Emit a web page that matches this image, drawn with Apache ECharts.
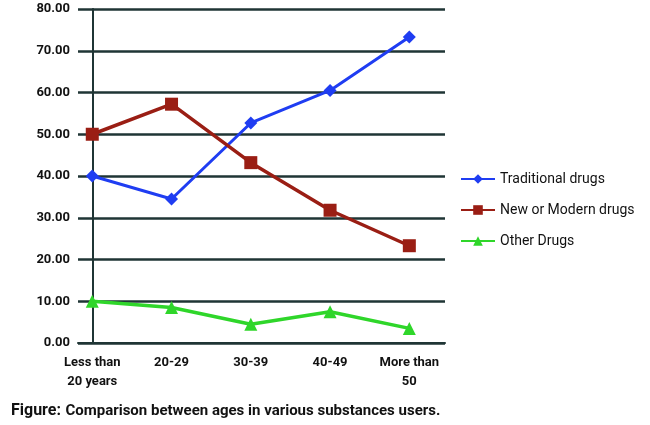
<!DOCTYPE html>
<html><head><meta charset="utf-8">
<script src="https://cdn.jsdelivr.net/npm/echarts@6/dist/echarts.min.js"></script>
<style>html,body{margin:0;background:#fff}#c{width:650px;height:425px}</style>
</head><body><div id="c"></div>
<script>
var categories = ['Less than\n20 years', '20-29', '30-39', '40-49', 'More than\n50'];
var traditional = [40.0, 34.5, 52.7, 60.5, 73.3];
var modern = [50.0, 57.2, 43.2, 31.8, 23.3];
var other = [10.0, 8.5, 4.5, 7.5, 3.5];
var yTicks = [0, 10, 20, 30, 40, 50, 60, 70, 80];

var font = '"Liberation Sans Narrow", "Roboto", sans-serif';
function pts(arr) { return arr.map(function (v, i) { return [i, v]; }); }

var chart = echarts.init(document.getElementById('c'));
chart.setOption({
    animation: false,
    textStyle: { fontFamily: font },
    title: {
        left: 6, top: 397,
        text: '{b|Figure:} {n|Comparison between ages in various substances users.}',
        textStyle: { rich: {
            b: { fontFamily: font, fontWeight: 'bold', fontSize: 16, color: '#111' },
            n: { fontFamily: font, fontSize: 15, color: '#111' }
        } }
    },
    legend: {
        orient: 'vertical', left: 455, top: 167, itemGap: 17,
        itemWidth: 34, itemHeight: 12,
        textStyle: { fontFamily: font, fontSize: 14, color: '#111' },
        data: ['Traditional drugs', 'New or Modern drugs', 'Other Drugs']
    },
    grid: { left: 78, right: 205, top: 9, bottom: 82, outerBoundsMode: 'none' },
    xAxis: {
        type: 'value', min: -0.18, max: 4.45,
        axisLine: { onZero: false, lineStyle: { color: '#1f3535', width: 2 } },
        axisTick: { show: false },
        splitLine: { show: false },
        axisLabel: {
            customValues: [0, 1, 2, 3, 4],
            formatter: function (v) { return categories[Math.round(v)]; },
            fontFamily: font, fontWeight: 'bold', fontSize: 13, color: '#111', lineHeight: 19, margin: 10
        }
    },
    yAxis: {
        type: 'value', min: 0, max: 80, interval: 10,
        axisLine: { show: true, lineStyle: { color: '#1f3535', width: 2 } },
        axisTick: { show: false },
        splitLine: { lineStyle: { color: '#1f3535', width: 2.5 } },
        axisLabel: {
            formatter: function (v) { return yTicks.indexOf(v) >= 0 ? v.toFixed(2) : ''; },
            fontFamily: font, fontWeight: 'bold', fontSize: 13, color: '#111', margin: 8
        }
    },
    series: [
        { name: 'Traditional drugs', type: 'line', data: pts(traditional), symbol: 'diamond', symbolSize: 13,
          itemStyle: { color: '#1f3df2' }, lineStyle: { width: 3, color: '#1f3df2' } },
        { name: 'New or Modern drugs', type: 'line', data: pts(modern), symbol: 'rect', symbolSize: 13,
          itemStyle: { color: '#9a1e14' }, lineStyle: { width: 3.5, color: '#9a1e14' } },
        { name: 'Other Drugs', type: 'line', data: pts(other), symbol: 'triangle', symbolSize: 13,
          itemStyle: { color: '#2fd62a' }, lineStyle: { width: 3.5, color: '#2fd62a' } }
    ]
});
</script></body></html>
